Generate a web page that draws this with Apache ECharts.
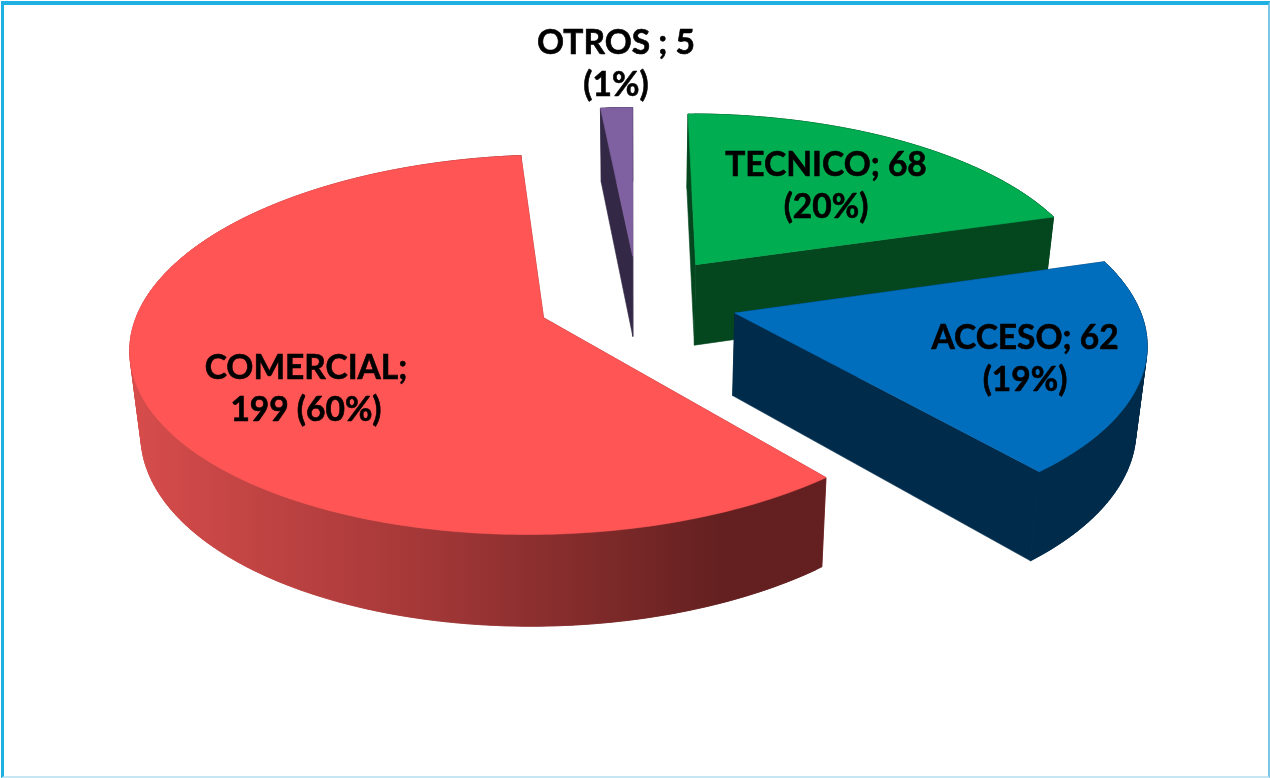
<!DOCTYPE html>
<html>
<head>
<meta charset="utf-8">
<title>Pie</title>
<script src="https://cdn.jsdelivr.net/npm/echarts@6/dist/echarts.min.js"></script>
<style>
	html, body { margin: 0; padding: 0; background: #fff; }
	#chart { width: 1270px; height: 778px; }
	#frame {
		position: absolute; left: 1px; top: 1px; width: 1269px; height: 777px; box-sizing: border-box;
		border-left: 3px solid #1fb0e2; border-top: 4px solid #1fb0e2;
		border-right: 2px solid #7cc7e8; border-bottom: 2px solid #c5e6f2;
		pointer-events: none;
	}
</style>
</head>
<body>
<div id="chart"></div>
<div id="frame"></div>
<script>
// drawing order: back slices first, ACCESO last because it covers TECNICO
const categories = ['COMERCIAL', 'OTROS', 'TECNICO', 'ACCESO']
const values = [199, 5, 68, 62]
const labels = ['COMERCIAL;\n199 (60%)', 'OTROS ; 5\n(1%)', 'TECNICO; 68\n(20%)', 'ACCESO; 62\n(19%)']

const topColors = ['#ff5555', '#7f60a0', '#00ad50', '#006ebd']
const sideColors = ['#8a2c2c', '#332845', '#04471f', '#002b4a']
const labelAt = [[306, 389], [616, 64], [826, 186], [1025, 359]]

// pie geometry, world units are one radius
const startAngle = 140
const explode = 0.25
const centerX = 637.5
const centerY = 300
const radiusX = 402
const radiusY = 181
const perspective = 0.14
const depth = 82
const bottomShrink = 0.978

const total = values.reduce((a, b) => a + b, 0)
let running = 0
const angles = values.map(v => {
	const from = echarts.number.linearMap(running, [0, total], [0, 360])
	running += v
	const to = echarts.number.linearMap(running, [0, total], [0, 360])
	return [startAngle + from, startAngle + to]
})

const project = (u, v, low) => {
	const s = 1 / (1 - perspective * v)
	const k = low ? bottomShrink : 1
	return [
		centerX + radiusX * u * s * k,
		centerY + radiusY * v * s * k + (low ? depth * s : 0)
	]
}

const dir = (deg) => {
	const a = deg * Math.PI / 180
	return [Math.sin(a), -Math.cos(a)]
}

const sideFill = (i) => {
	if (i !== 0) return sideColors[i]
	return {
		type: 'linear', global: true, x: 140, y: 0, x2: 720, y2: 0,
		colorStops: [
			{ offset: 0, color: '#d54c4b' },
			{ offset: 0.48, color: '#a53838' },
			{ offset: 0.83, color: '#7a2828' },
			{ offset: 1, color: '#642020' }
		]
	}
}

const poly = (points, f) => ({ type: 'polygon', shape: { points }, style: { fill: f, stroke: f, lineWidth: 0.6 } })

const renderSlice = (params, api) => {
	const i = params.dataIndex
	const [a0, a1] = angles[i]
	const mid = dir((a0 + a1) / 2)
	const ax = mid[0] * explode
	const ay = mid[1] * explode

	const steps = Math.max(2, Math.ceil(a1 - a0))
	const rimTop = []
	const rimLow = []
	for (let n = 0; n <= steps; n++) {
		const d = dir(a0 + (a1 - a0) * n / steps)
		rimTop.push(project(ax + d[0], ay + d[1], false))
		rimLow.push(project(ax + d[0], ay + d[1], true))
	}
	const apexTop = project(ax, ay, false)
	const apexLow = project(ax, ay, true)
	const fill = sideFill(i)

	// outer wall as overlapping quads: keeps the far left silhouette closed and hides the seams
	const wall = []
	for (let n = 0; n < steps; n++) {
		const m = Math.min(n + 2, steps)
		wall.push(poly([rimTop[n], rimTop[n + 1], rimTop[m], rimLow[m], rimLow[n + 1], rimLow[n]], fill))
	}

	return {
		type: 'group',
		children: [
			poly([apexTop, rimTop[0], rimLow[0], apexLow], sideColors[i]),
			poly([apexTop, rimTop[steps], rimLow[steps], apexLow], sideColors[i]),
			...wall,
			poly([apexTop].concat(rimTop), topColors[i]),
			{
				type: 'text',
				x: labelAt[i][0],
				y: labelAt[i][1],
				style: {
					text: labels[i],
					align: 'center',
					verticalAlign: 'middle',
					fontFamily: 'Lato',
					fontWeight: 'bold',
					fontSize: 33.5,
					lineHeight: 42,
					fill: '#000',
					stroke: '#000',
					lineWidth: 0.6
				}
			}
		]
	}
}

const chart = echarts.init(document.getElementById('chart'))
chart.setOption({
	animation: false,
	series: [{
		type: 'custom',
		coordinateSystem: 'none',
		silent: true,
		renderItem: renderSlice,
		data: values.map((v, i) => ({ name: categories[i], value: [v] }))
	}]
})
</script>
</body>
</html>
